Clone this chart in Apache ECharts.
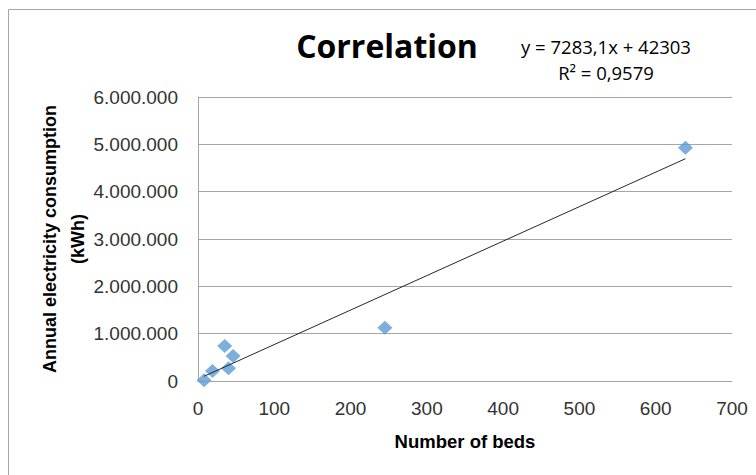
<!DOCTYPE html>
<html>
<head>
<meta charset="utf-8">
<title>Correlation</title>
<script src="https://cdn.jsdelivr.net/npm/echarts@6/dist/echarts.min.js"></script>
<style>
  html, body { margin: 0; padding: 0; background: #ffffff; }
  #chart { width: 756px; height: 475px; }
</style>
</head>
<body>
<div id="chart"></div>
<script>
// Hospitals: number of beds vs. annual electricity consumption (kWh)
const beds = [8, 19, 35, 40, 46, 245, 639];
const consumption = [15000, 210000, 740000, 270000, 530000, 1125000, 4930000];

// Linear trendline coefficients and fit quality
const trendSlope = 7283.1;
const trendIntercept = 42303;
const rSquared = 0.9579;

// Axis ticks
const xTicks = [0, 100, 200, 300, 400, 500, 600, 700];
const yTicks = [0, 1000000, 2000000, 3000000, 4000000, 5000000, 6000000];

const points = beds.map((b, i) => [b, consumption[i]]);
const xMin = Math.min(...beds);
const xMax = Math.max(...beds);
const trendLine = [xMin, xMax].map(x => [x, trendSlope * x + trendIntercept]);

// Thousands separated by dots, decimals by comma
function fmtThousands(v) {
  return String(Math.round(v)).replace(/\B(?=(\d{3})+(?!\d))/g, '.');
}
function fmtDecimal(v) {
  return String(v).replace('.', ',');
}

const labelFont = '"Liberation Sans", Arial, sans-serif';
const eqText = 'y = ' + fmtDecimal(trendSlope) + 'x + ' + trendIntercept;
const r2Text = 'R\u00B2 = ' + fmtDecimal(rSquared);

const chart = echarts.init(document.getElementById('chart'), null, { renderer: 'svg' });
chart.setOption({
  animation: false,
  backgroundColor: '#ffffff',
  title: {
    text: 'Correlation',
    left: 382,
    top: 24,
    textAlign: 'center',
    textStyle: { fontFamily: '"Open Sans", sans-serif', fontWeight: 'bold', fontSize: 32, color: '#000000' }
  },
  graphic: [
    {
      type: 'rect',
      shape: { x: 8.5, y: 9.5, width: 760, height: 480 },
      style: { fill: 'none', stroke: '#a6a6a6', lineWidth: 1 },
      silent: true
    },
    {
      type: 'text',
      x: 606,
      y: 37,
      style: { text: eqText, font: '18.5px "Open Sans", sans-serif', fill: '#000000', textAlign: 'center' }
    },
    {
      type: 'text',
      x: 606,
      y: 63,
      style: { text: r2Text, font: '18.5px "Open Sans", sans-serif', fill: '#000000', textAlign: 'center' }
    }
  ],
  grid: { left: 198, right: 24, top: 97, bottom: 94, containLabel: false },
  xAxis: {
    type: 'value',
    min: xTicks[0],
    max: xTicks[xTicks.length - 1],
    interval: xTicks[1] - xTicks[0],
    name: 'Number of beds',
    nameLocation: 'middle',
    nameGap: 51,
    nameTextStyle: { fontFamily: labelFont, fontWeight: 'bold', fontSize: 18.5, color: '#000000' },
    axisLine: { show: true, lineStyle: { color: '#a6a6a6', width: 1 } },
    axisTick: { show: false },
    splitLine: { show: false },
    axisLabel: { fontFamily: labelFont, fontSize: 19, color: '#333333', margin: 18 }
  },
  yAxis: {
    type: 'value',
    min: yTicks[0],
    max: yTicks[yTicks.length - 1],
    interval: yTicks[1] - yTicks[0],
    name: 'Annual electricity consumption\n(kWh)',
    nameLocation: 'middle',
    nameRotate: 90,
    nameGap: 134,
    nameMoveOverlap: false,
    nameTextStyle: { fontFamily: labelFont, fontWeight: 'bold', fontSize: 18, color: '#000000', lineHeight: 28, align: 'center', verticalAlign: 'middle' },
    axisLine: { show: true, lineStyle: { color: '#a6a6a6', width: 1 } },
    axisTick: { show: false },
    splitLine: { show: true, lineStyle: { color: '#a6a6a6', width: 1 } },
    axisLabel: { fontFamily: labelFont, fontSize: 19, color: '#333333', margin: 20, formatter: fmtThousands }
  },
  series: [
    {
      type: 'line',
      data: trendLine,
      symbol: 'none',
      lineStyle: { color: '#262626', width: 1 },
      silent: true,
      z: 3
    },
    {
      type: 'scatter',
      data: points,
      symbol: 'diamond',
      symbolSize: [15, 14],
      itemStyle: { color: '#5B9BD5' },
      z: 2
    }
  ]
});
</script>
</body>
</html>
